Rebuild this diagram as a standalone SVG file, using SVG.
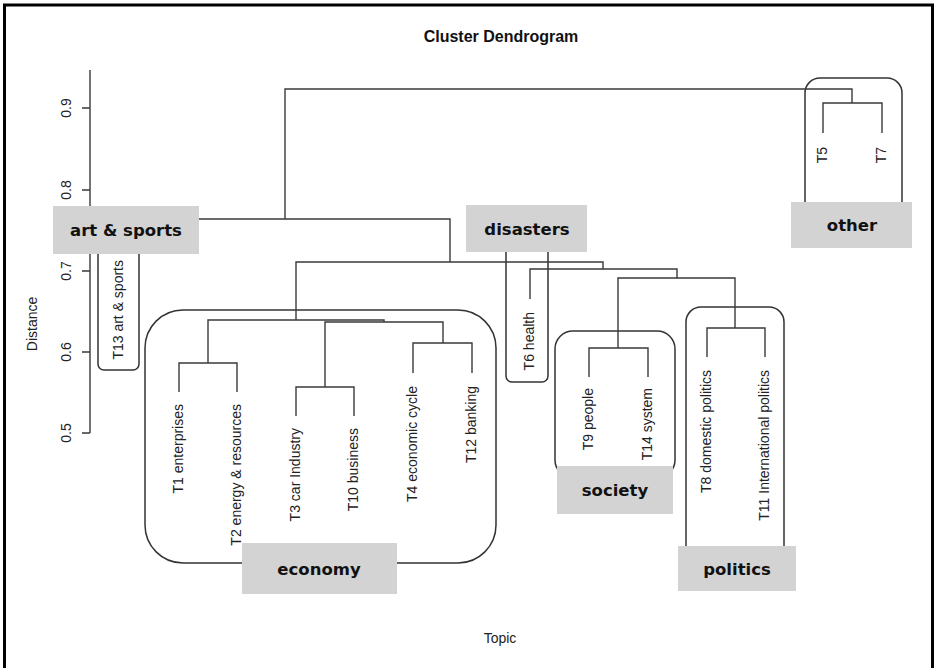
<svg xmlns="http://www.w3.org/2000/svg" width="935" height="668" viewBox="0 0 935 668">
<style>
.ln{fill:none;stroke:#3a3a3a;stroke-width:1.4}
.box{fill:none;stroke:#333;stroke-width:1.5}
.tag{fill:#d3d3d3}
.tagt{font-family:"DejaVu Sans",sans-serif;font-weight:bold;font-size:16.5px;fill:#111;text-anchor:middle}
.leaf{font-family:"Liberation Sans",Arial,sans-serif;font-size:14px;fill:#222;text-anchor:end;dominant-baseline:central}
.ax{font-family:"Liberation Sans",Arial,sans-serif;font-size:14px;fill:#222;text-anchor:middle;dominant-baseline:central}
</style>
<rect x="0" y="0" width="935" height="668" fill="#fff"/>
<rect x="4.5" y="5" width="928" height="675" fill="none" stroke="#000" stroke-width="3"/>
<text x="501" y="42" font-family="Liberation Sans,Arial,sans-serif" font-weight="bold" font-size="16px" text-anchor="middle" fill="#111">Cluster Dendrogram</text>
<g id="axis">
<path class="ln" d="M90 70V433M82 108H90M82 190H90M82 271H90M82 352H90M82 433H90"/>
<text class="ax" transform="translate(66,108) rotate(-90)">0.9</text>
<text class="ax" transform="translate(66,190) rotate(-90)">0.8</text>
<text class="ax" transform="translate(66,271) rotate(-90)">0.7</text>
<text class="ax" transform="translate(66,352) rotate(-90)">0.6</text>
<text class="ax" transform="translate(66,433) rotate(-90)">0.5</text>
<text class="ax" transform="translate(32,324) rotate(-90)">Distance</text>
</g>
<text x="500" y="643" font-family="Liberation Sans,Arial,sans-serif" font-size="14px" text-anchor="middle" fill="#222">Topic</text>
<g id="cluster-boxes">
<rect id="box-other" class="box" x="805" y="78" width="97" height="140" rx="15"/>
<rect id="box-art" class="box" x="98" y="235" width="41" height="135" rx="6"/>
<rect id="box-economy" class="box" x="145" y="310" width="351" height="253" rx="38"/>
<rect id="box-disasters" class="box" x="506" y="240" width="42" height="142" rx="6"/>
<rect id="box-society" class="box" x="555" y="331" width="120" height="147" rx="18"/>
<rect id="box-politics" class="box" x="686" y="307" width="98" height="262" rx="15"/>
</g>
<g id="connectors">
<path class="ln" d="M285 219V89H852V103"/>
<path class="ln" d="M823 133V103H882V133"/>
<path class="ln" d="M118 250V219H450V262"/>
<path class="ln" d="M296 320V262H603V269"/>
<path class="ln" d="M530 299V269H677V278"/>
<path class="ln" d="M618 348V278H735V328"/>
<path class="ln" d="M589 377V348H648V377"/>
<path class="ln" d="M707 357V328H765V357"/>
<path class="ln" d="M208 363V320H384V322"/>
<path class="ln" d="M325 387V322H443V343"/>
<path class="ln" d="M179 392V363H237V392"/>
<path class="ln" d="M296 416V387H354V416"/>
<path class="ln" d="M413 373V343H472V373"/>
</g>
<g id="leaves">
<g id="T1"><text class="leaf" transform="translate(178,404) rotate(-90)">T1 enterprises</text></g>
<g id="T2"><text class="leaf" transform="translate(236,404) rotate(-90)">T2 energy &amp; resources</text></g>
<g id="T3"><text class="leaf" transform="translate(295,428) rotate(-90)">T3 car Industry</text></g>
<g id="T10"><text class="leaf" transform="translate(353,428) rotate(-90)">T10 business</text></g>
<g id="T4"><text class="leaf" transform="translate(412,386) rotate(-90)">T4 economic cycle</text></g>
<g id="T12"><text class="leaf" transform="translate(471,386) rotate(-90)">T12 banking</text></g>
<g id="T13"><text class="leaf" transform="translate(118,260) rotate(-90)">T13 art &amp; sports</text></g>
<g id="T6"><text class="leaf" transform="translate(529,312) rotate(-90)">T6 health</text></g>
<g id="T9"><text class="leaf" transform="translate(588,388) rotate(-90)">T9 people</text></g>
<g id="T14"><text class="leaf" transform="translate(647,388) rotate(-90)">T14 system</text></g>
<g id="T8"><text class="leaf" transform="translate(706,370) rotate(-90)">T8 domestic politics</text></g>
<g id="T11"><text class="leaf" transform="translate(764,370) rotate(-90)">T11 International politics</text></g>
<g id="T5"><text class="leaf" transform="translate(822,147) rotate(-90)">T5</text></g>
<g id="T7"><text class="leaf" transform="translate(881,147) rotate(-90)">T7</text></g>
</g>
<g id="label-art-sports"><rect class="tag" x="53" y="206" width="146" height="48"/><text class="tagt" x="126" y="236">art &amp; sports</text></g>
<g id="label-disasters"><rect class="tag" x="466" y="205" width="121" height="47"/><text class="tagt" x="527" y="235">disasters</text></g>
<g id="label-other"><rect class="tag" x="791" y="202" width="121" height="46"/><text class="tagt" x="852" y="231">other</text></g>
<g id="label-economy"><rect class="tag" x="242" y="543" width="155" height="51"/><text class="tagt" x="319" y="575">economy</text></g>
<g id="label-society"><rect class="tag" x="557" y="466" width="116" height="48"/><text class="tagt" x="615" y="496">society</text></g>
<g id="label-politics"><rect class="tag" x="678" y="546" width="118" height="45"/><text class="tagt" x="737" y="575">politics</text></g>
</svg>
